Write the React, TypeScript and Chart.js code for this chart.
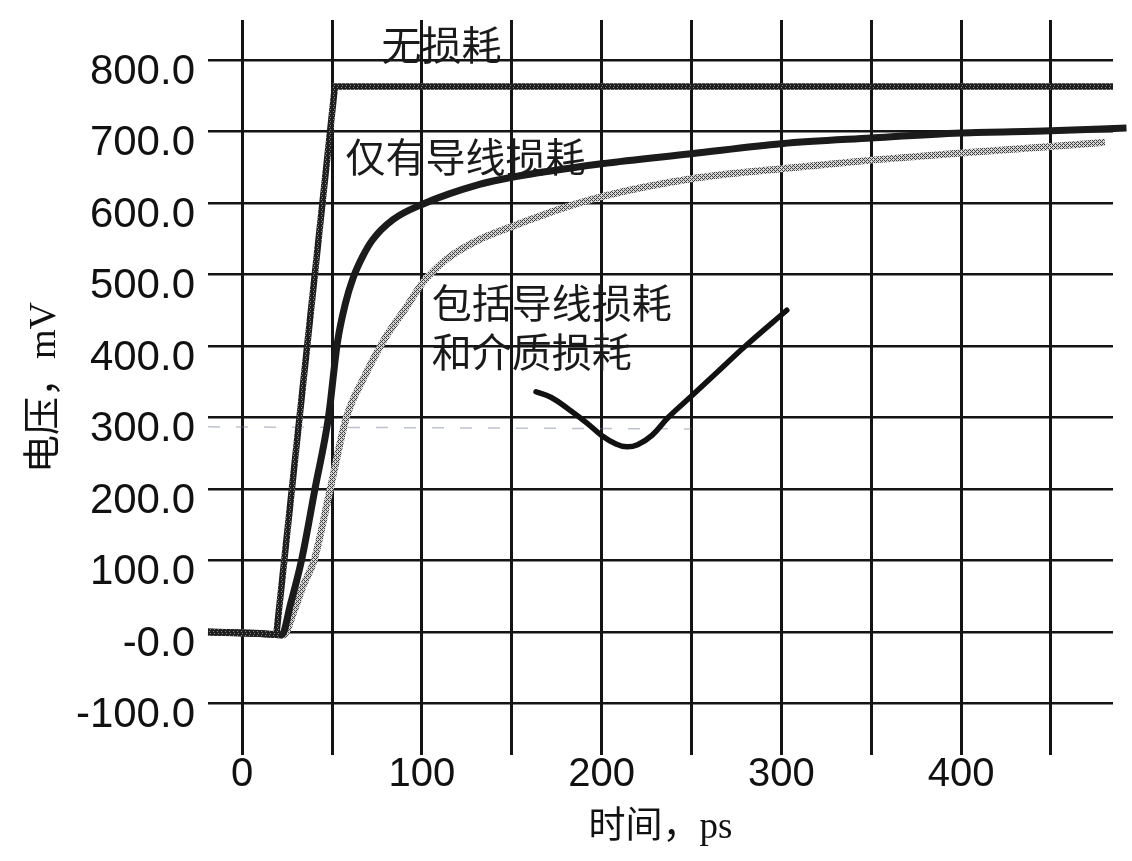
import React, { useEffect, useRef } from 'react';
import { Chart, registerables } from 'chart.js';

Chart.register(...registerables);

// ---- data (time in ps, voltage in mV) ----
const losslessTime = [-19, 8, 19, 51.6, 484.5];
const losslessMv = [0, -2, -4, 763, 763];

const conductorTime = [-19, 10, 22, 27, 33, 40.5, 48, 53, 57.5, 61.7, 67, 72.7, 84, 100, 132, 150, 200, 250, 300, 350, 400, 450, 492];
const conductorMv = [0, -2, -4, 40, 100, 200, 300, 405, 460, 495, 525, 549, 577, 598, 626, 636, 655, 669, 683, 691, 698, 701, 705];

const dielectricTime = [-19, 10, 23, 29, 34, 40, 49, 58, 68, 79, 91.5, 100, 114, 132, 150, 175, 200, 250, 300, 350, 400, 450, 480];
const dielectricMv = [0, -2, -4, 30, 65, 100, 200, 300, 357, 409, 455, 487, 522, 549, 567, 590, 609, 634, 648, 660, 670, 679, 685];

// hand-drawn pointer stroke
const strokeTime = [163.5, 172, 182, 191.5, 200, 208, 214, 220, 228, 237, 250, 265, 280, 303];
const strokeMv = [336, 328, 311, 293, 275, 263, 259, 262, 275, 300, 330, 365, 400, 450];

// faint dashed scan line
const faintTime = [-19, 250];
const faintMv = [287, 284];

// tick settings
const xTickLabels = ['0', '100', '200', '300', '400'];

// annotations
const noteText = ['无损耗', '仅有导线损耗', '包括导线损耗', '和介质损耗'];
const noteTime = [77.5, 57.5, 105.5, 105.5];
const noteMv = [822, 665, 461, 392];

const pts = (t: number[], v: number[]) => t.map((x, i) => ({ x, y: v[i] }));

function hatch(rows: string[], dark: string, light: string) {
  const c = document.createElement('canvas');
  c.width = rows[0].length;
  c.height = rows.length;
  const g = c.getContext('2d')!;
  rows.forEach((r, y) => {
    for (let x = 0; x < r.length; x++) {
      g.fillStyle = r[x] === '#' ? dark : light;
      g.fillRect(x, y, 1, 1);
    }
  });
  return g.createPattern(c, 'repeat')!;
}

export default function App() {
  const ref = useRef<HTMLCanvasElement>(null);

  useEffect(() => {
    const canvas = ref.current!;
    const ctx = canvas.getContext('2d')!;

    const losslessPat = hatch(['####', '##.#', '####', '#.##'], '#1e1e1e', '#8a8a8a');
    const dielectricPat = hatch(['#.#.', '.#..', '#.#.', '...#'], '#404040', '#d4d4d4');

    const notesPlugin = {
      id: 'notes',
      afterDatasetsDraw(chart: any) {
        const c = chart.ctx;
        const xs = chart.scales.x;
        const ys = chart.scales.y;
        c.save();
        c.font = '40px "Noto Sans CJK SC"';
        c.fillStyle = '#1a1a1a';
        c.textAlign = 'left';
        c.textBaseline = 'middle';
        noteText.forEach((s, i) => {
          c.fillText(s, xs.getPixelForValue(noteTime[i]), ys.getPixelForValue(noteMv[i]));
        });
        c.restore();
      },
    };

    const chart = new Chart(ctx, {
      type: 'line',
      data: {
        datasets: [
          {
            label: '无损耗',
            data: pts(losslessTime, losslessMv),
            borderColor: losslessPat as any,
            borderWidth: 6.5,
            pointRadius: 0,
            tension: 0,
          },
          {
            label: '仅有导线损耗',
            data: pts(conductorTime, conductorMv),
            borderColor: '#1b1b1b',
            borderWidth: 7,
            pointRadius: 0,
            cubicInterpolationMode: 'monotone',
            clip: false as any,
          },
          {
            label: '包括导线损耗和介质损耗',
            data: pts(dielectricTime, dielectricMv),
            borderColor: dielectricPat as any,
            borderWidth: 7,
            pointRadius: 0,
            cubicInterpolationMode: 'monotone',
          },
          {
            label: 'pointer',
            data: pts(strokeTime, strokeMv),
            borderColor: '#111111',
            borderWidth: 5.5,
            pointRadius: 0,
            tension: 0.4,
            borderCapStyle: 'round',
          },
          {
            label: 'scan',
            data: pts(faintTime, faintMv),
            borderColor: 'rgba(110,120,150,0.45)',
            borderWidth: 1.5,
            borderDash: [12, 16],
            pointRadius: 0,
          },
        ],
      },
      options: {
        animation: false,
        responsive: false,
        layout: { padding: { top: 20, right: 19, left: 0, bottom: 0 } },
        plugins: { legend: { display: false }, tooltip: { enabled: false } },
        scales: {
          x: {
            type: 'linear',
            min: -19,
            max: 484.5,
            afterFit: (s: any) => {
              s.height = 106;
              s.paddingLeft = 0;
              s.paddingRight = 0;
            },
            border: { display: false },
            grid: { color: '#141414', lineWidth: 3, drawTicks: false },
            ticks: {
              stepSize: 50,
              includeBounds: false,
              padding: 0,
              color: '#111',
              maxRotation: 0,
              autoSkip: false,
              font: { family: '"Liberation Sans", Arial, sans-serif', size: 40, lineHeight: 1 },
              callback: (v: any) => {
                const s = String(v);
                return xTickLabels.includes(s) ? s : '';
              },
            },
            title: {
              display: true,
              text: '时间，ps',
              color: '#111',
              font: { family: '"Liberation Serif", "Noto Sans CJK SC", serif', size: 37 },
              padding: { top: 0, bottom: 11 },
            },
          },
          y: {
            type: 'linear',
            min: -172,
            max: 856,
            afterFit: (s: any) => {
              s.width = 208;
              s.paddingTop = 0;
              s.paddingBottom = 0;
            },
            border: { display: false },
            grid: { color: '#141414', lineWidth: 2.4, drawTicks: false },
            ticks: {
              stepSize: 100,
              includeBounds: false,
              padding: 13,
              labelOffset: 12,
              color: '#111',
              autoSkip: false,
              font: { family: '"Liberation Sans", Arial, sans-serif', size: 42 },
              callback: (v: any) => (Number(v) === 0 ? '-0.0' : Number(v).toFixed(1)),
            },
            title: {
              display: true,
              text: '电压，mV',
              color: '#111',
              font: { family: '"Liberation Serif", "Noto Sans CJK SC", serif', size: 38 },
              padding: { top: 22, bottom: 0 },
            },
          },
        },
      },
      plugins: [notesPlugin],
    });

    return () => chart.destroy();
  }, []);

  return (
    <div style={{ position: 'absolute', left: 0, top: 0, width: 1132, height: 861, background: '#fff' }}>
      <canvas ref={ref} width={1132} height={861} style={{ display: 'block' }} />
    </div>
  );
}
